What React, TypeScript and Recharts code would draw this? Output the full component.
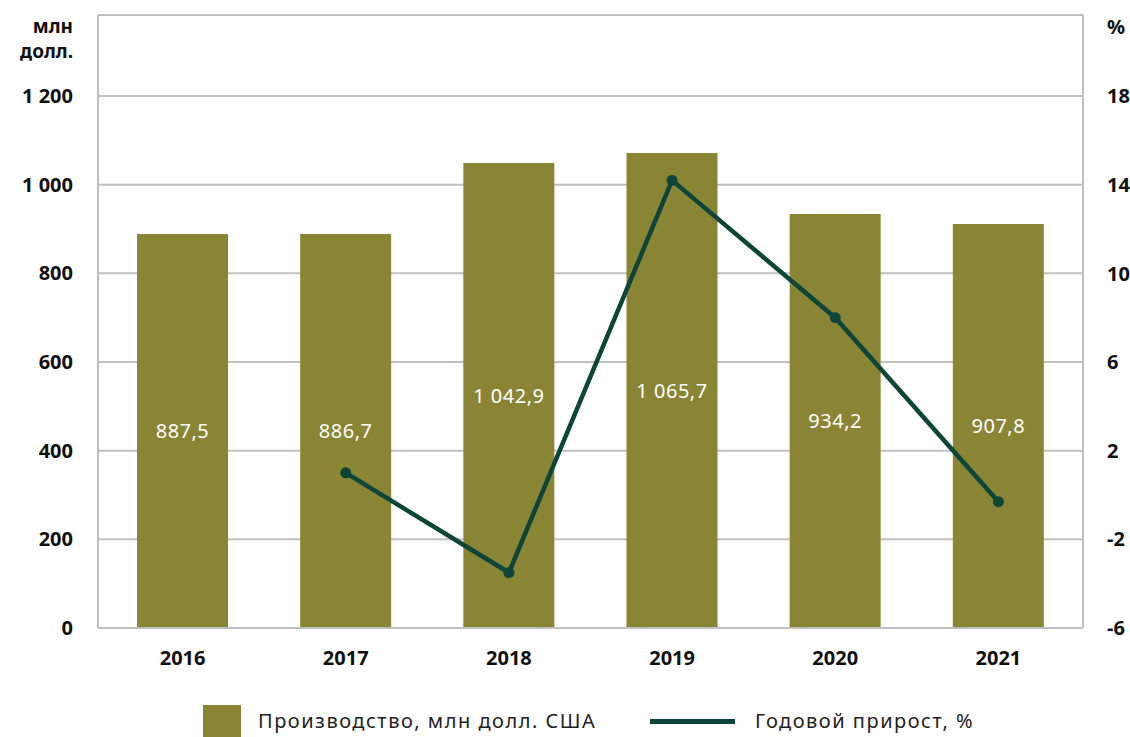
import React from 'react';
import { ComposedChart, Bar, Line, XAxis, YAxis, CartesianGrid, LabelList, Legend } from 'recharts';

const years = ['2016', '2017', '2018', '2019', '2020', '2021'];
const production = [888.5, 888.5, 1048.8, 1071.4, 933.7, 911.2];
const productionLabels = ['887,5', '886,7', '1 042,9', '1 065,7', '934,2', '907,8'];
const growth: (number | null)[] = [null, 1.0, -3.5, 14.2, 8.0, -0.3];
const leftTicks = [0, 200, 400, 600, 800, 1000, 1200];
const rightTicks = [-6, -2, 2, 6, 10, 14, 18];
const seriesNames = ['Производство, млн долл. США', 'Годовой прирост, %'];
const leftUnit = ['млн', 'долл.'];
const rightUnit = '%';

const data = years.map((y, i) => ({
  year: y,
  production: production[i],
  label: productionLabels[i],
  growth: growth[i],
}));

const FONT = '"Noto Sans", "Open Sans", sans-serif';
const BAR = '#8a8535';
const LINE = '#0d4539';
const GRID = '#c0c0c0';

const fmtLeft = (v: number) =>
  v >= 1000 ? `${Math.floor(v / 1000)} ${String(v % 1000).padStart(3, '0')}` : String(v);

const tickStyle = { fill: '#111', fontSize: 20, fontWeight: 700, fontFamily: FONT };

const LeftUnitLabel = (props: any) => {
  const vb = props.viewBox || {};
  const x = vb.x + vb.width - 25;
  return (
    <g>
      <text x={x} y={33} textAnchor="end" fill="#111" fontSize={19} fontWeight={700} fontFamily={FONT}>
        {leftUnit[0]}
      </text>
      <text x={x} y={58} textAnchor="end" fill="#111" fontSize={19} fontWeight={700} fontFamily={FONT}>
        {leftUnit[1]}
      </text>
    </g>
  );
};

const RightUnitLabel = (props: any) => {
  const vb = props.viewBox || {};
  return (
    <text x={vb.x + 24} y={34} textAnchor="start" fill="#111" fontSize={20} fontWeight={700} fontFamily={FONT}>
      {rightUnit}
    </text>
  );
};

const legendText: React.CSSProperties = {
  position: 'absolute',
  top: 3,
  lineHeight: '33px',
  fontSize: 20,
  letterSpacing: 1.5,
  color: '#222',
  whiteSpace: 'nowrap',
};

const LegendContent = () => (
  <div style={{ position: 'relative', height: 36, width: '100%', fontFamily: FONT, overflow: 'hidden' }}>
    <div style={{ position: 'absolute', left: 203, top: 4, width: 38, height: 32, background: BAR }} />
    <div style={{ ...legendText, left: 258 }}>{seriesNames[0]}</div>
    <div style={{ position: 'absolute', left: 650, top: 18, width: 85, height: 5, background: LINE }} />
    <div style={{ ...legendText, left: 755 }}>{seriesNames[1]}</div>
  </div>
);

export default function App() {
  return (
    <div style={{ position: 'fixed', top: 0, left: 0, width: 1130, height: 737, background: '#fff', overflow: 'hidden' }}>
      <ComposedChart
        width={1130}
        height={737}
        data={data}
        margin={{ top: 15, right: 0, bottom: 0, left: 0 }}
      >
        <CartesianGrid yAxisId="left" vertical={false} stroke={GRID} strokeWidth={2} />
        <XAxis
          dataKey="year"
          height={73}
          padding={{ left: 3, right: 3 }}
          tickLine={false}
          tickSize={0}
          tickMargin={23}
          axisLine={{ stroke: GRID, strokeWidth: 2 }}
          tick={tickStyle}
          interval={0}
        />
        <YAxis
          yAxisId="left"
          width={98}
          domain={[0, 1382.8]}
          ticks={leftTicks}
          interval={0}
          tickFormatter={fmtLeft}
          tickLine={false}
          tickSize={0}
          tickMargin={25}
          axisLine={{ stroke: GRID, strokeWidth: 2 }}
          tick={tickStyle}
          label={<LeftUnitLabel />}
          allowDataOverflow
        />
        <YAxis
          yAxisId="right"
          orientation="right"
          width={47}
          domain={[-6, 21.66]}
          ticks={rightTicks}
          interval={0}
          tickLine={false}
          tickSize={0}
          tickMargin={24}
          axisLine={{ stroke: GRID, strokeWidth: 2 }}
          tick={tickStyle}
          label={<RightUnitLabel />}
          allowDataOverflow
        />
        <Bar yAxisId="left" dataKey="production" name={seriesNames[0]} fill={BAR} barSize={91} isAnimationActive={false}>
          <LabelList dataKey="label" position="center" fill="#fff" fontSize={20} letterSpacing={0.5} fontFamily={FONT} />
        </Bar>
        <Line
          yAxisId="right"
          type="linear"
          dataKey="growth"
          name={seriesNames[1]}
          stroke={LINE}
          strokeWidth={4.5}
          dot={{ r: 5.5, fill: LINE, stroke: LINE, strokeWidth: 0 }}
          activeDot={false}
          isAnimationActive={false}
        />
        <Legend verticalAlign="bottom" height={36} content={<LegendContent />} />
      </ComposedChart>
    </div>
  );
}
